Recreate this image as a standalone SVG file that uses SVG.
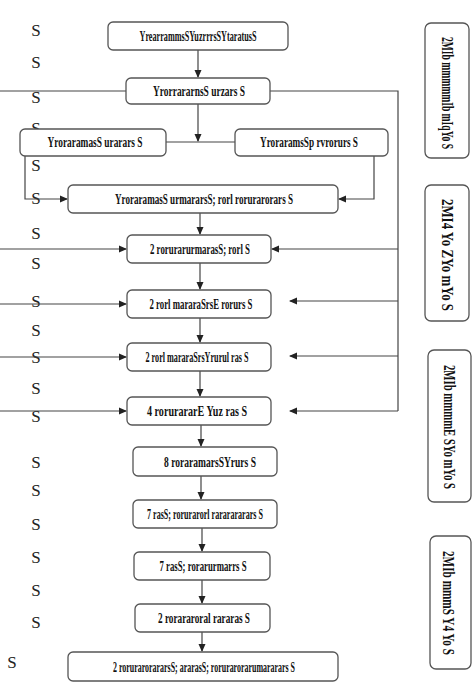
<svg xmlns="http://www.w3.org/2000/svg" width="474" height="684" viewBox="0 0 474 684">
<style>
.b{fill:#fff;stroke:#555;stroke-width:1.3}
.t{font-family:"Liberation Serif",serif;font-size:15px;font-weight:bold;fill:#111;text-anchor:middle}
.r{font-family:"Liberation Serif",serif;font-size:16px;font-weight:bold;fill:#111;text-anchor:middle}
.s{font-family:"Liberation Serif",serif;font-size:17px;fill:#222;text-anchor:middle}
.c{fill:none;stroke:#444;stroke-width:1.2}
</style>
<defs>
<marker id="a" markerWidth="8" markerHeight="8" refX="7" refY="4" orient="auto" markerUnits="userSpaceOnUse">
<path d="M0,0.5 L8,4 L0,7.5 Z" fill="#222"/>
</marker>
</defs>
<g id="side-labels">
<text class="s" x="36" y="36">S</text>
<text class="s" x="36" y="68">S</text>
<text class="s" x="36" y="103">S</text>
<text class="s" x="36" y="134">S</text>
<text class="s" x="36" y="171">S</text>
<text class="s" x="36" y="204">S</text>
<text class="s" x="36" y="239">S</text>
<text class="s" x="36" y="269">S</text>
<text class="s" x="36" y="307">S</text>
<text class="s" x="36" y="336">S</text>
<text class="s" x="36" y="363">S</text>
<text class="s" x="36" y="394">S</text>
<text class="s" x="36" y="422">S</text>
<text class="s" x="36" y="468">S</text>
<text class="s" x="36" y="496">S</text>
<text class="s" x="36" y="530">S</text>
<text class="s" x="36" y="563">S</text>
<text class="s" x="36" y="596">S</text>
<text class="s" x="36" y="628">S</text>
<text class="s" x="12" y="668">S</text>
</g>
<g id="connectors">
<path class="c" d="M198,50 V77" marker-end="url(#a)"/>
<path class="c" d="M0,91 H126"/>
<path class="c" d="M270,91 H398 V411"/>
<path class="c" d="M198,104 V141" marker-end="url(#a)"/>
<path class="c" d="M166,142 H235"/>
<path class="c" d="M25,156 V199 H67" marker-end="url(#a)"/>
<path class="c" d="M374,156 V199 H339" marker-end="url(#a)"/>
<path class="c" d="M200,213 V234" marker-end="url(#a)"/>
<path class="c" d="M0,249 H126" marker-end="url(#a)"/>
<path class="c" d="M398,249 H272" marker-end="url(#a)"/>
<path class="c" d="M200,263 V289" marker-end="url(#a)"/>
<path class="c" d="M0,304 H126" marker-end="url(#a)"/>
<path class="c" d="M398,301 H290" marker-end="url(#a)"/>
<path class="c" d="M200,318 V342" marker-end="url(#a)"/>
<path class="c" d="M0,357 H126" marker-end="url(#a)"/>
<path class="c" d="M398,356 H290" marker-end="url(#a)"/>
<path class="c" d="M200,371 V396" marker-end="url(#a)"/>
<path class="c" d="M0,411 H126" marker-end="url(#a)"/>
<path class="c" d="M398,411 H290" marker-end="url(#a)"/>
<path class="c" d="M201,425 V446" marker-end="url(#a)"/>
<path class="c" d="M201,476 V499" marker-end="url(#a)"/>
<path class="c" d="M202,528 V551" marker-end="url(#a)"/>
<path class="c" d="M202,580 V603" marker-end="url(#a)"/>
<path class="c" d="M202,632 V651" marker-end="url(#a)"/>
</g>
<g id="n1"><rect class="b" x="108" y="22" width="180" height="28" rx="5"/><text class="t" x="198" y="41" textLength="117" lengthAdjust="spacingAndGlyphs">YrearrammsSYuzrrrsSYtaratusS</text></g>
<g id="n2"><rect class="b" x="126" y="78" width="144" height="26" rx="5"/><text class="t" x="199" y="96" textLength="92" lengthAdjust="spacingAndGlyphs">YrorrararnsS urzars S</text></g>
<g id="n3"><rect class="b" x="20" y="129" width="146" height="27" rx="5"/><text class="t" x="95" y="147" textLength="95" lengthAdjust="spacingAndGlyphs">YroraramasS urarars S</text></g>
<g id="n4"><rect class="b" x="235" y="129" width="153" height="27" rx="5"/><text class="t" x="309" y="147" textLength="98" lengthAdjust="spacingAndGlyphs">YroraramsSp rvrorurs S</text></g>
<g id="n5"><rect class="b" x="68" y="185" width="270" height="28" rx="5"/><text class="t" x="204" y="204" textLength="178" lengthAdjust="spacingAndGlyphs">YroraramasS urmararsS; rorl rorurarorars S</text></g>
<g id="n6"><rect class="b" x="127" y="235" width="144" height="28" rx="5"/><text class="t" x="200" y="254" textLength="100" lengthAdjust="spacingAndGlyphs">2 rorurarurmarasS; rorl S</text></g>
<g id="n7"><rect class="b" x="127" y="290" width="144" height="28" rx="5"/><text class="t" x="201" y="309" textLength="103" lengthAdjust="spacingAndGlyphs">2 rorl mararaSrsE rorurs S</text></g>
<g id="n8"><rect class="b" x="127" y="343" width="144" height="28" rx="5"/><text class="t" x="197" y="362" textLength="103" lengthAdjust="spacingAndGlyphs">2 rorl mararaSrsYrurul ras S</text></g>
<g id="n9"><rect class="b" x="127" y="397" width="144" height="28" rx="5"/><text class="t" x="197" y="416" textLength="100" lengthAdjust="spacingAndGlyphs">4 rorurararE Yuz ras S</text></g>
<g id="n10"><rect class="b" x="133" y="447" width="144" height="29" rx="5"/><text class="t" x="210" y="467" textLength="92" lengthAdjust="spacingAndGlyphs">8 roraramarsSYrurs S</text></g>
<g id="n11"><rect class="b" x="133" y="500" width="144" height="28" rx="5"/><text class="t" x="205" y="519" textLength="116" lengthAdjust="spacingAndGlyphs">7 rasS; rorurarorl rararararars S</text></g>
<g id="n12"><rect class="b" x="134" y="552" width="136" height="28" rx="5"/><text class="t" x="203" y="571" textLength="87" lengthAdjust="spacingAndGlyphs">7 rasS; rorarurmarrs S</text></g>
<g id="n13"><rect class="b" x="135" y="604" width="135" height="28" rx="5"/><text class="t" x="204" y="623" textLength="92" lengthAdjust="spacingAndGlyphs">2 rorararoral rararas S</text></g>
<g id="n14"><rect class="b" x="68" y="652" width="270" height="29" rx="5"/><text class="t" x="204" y="672" textLength="182" lengthAdjust="spacingAndGlyphs">2 rorurarorararsS; ararasS; rorurarorarumararars S</text></g>
<g id="side1"><rect class="b" x="425" y="23" width="44" height="135" rx="6"/><text class="r" transform="translate(442,93) rotate(90)" textLength="112" lengthAdjust="spacingAndGlyphs">2MIb mmmmmIb mIqYo S</text></g>
<g id="side2"><rect class="b" x="425" y="185" width="44" height="136" rx="6"/><text class="r" transform="translate(442,255) rotate(90)" textLength="112" lengthAdjust="spacingAndGlyphs">2MI4 Yo ZYo mYo S</text></g>
<g id="side3"><rect class="b" x="428" y="350" width="43" height="152" rx="6"/><text class="r" transform="translate(444,427) rotate(90)" textLength="124" lengthAdjust="spacingAndGlyphs">2MIb mmmmE SYo mYo S</text></g>
<g id="side4"><rect class="b" x="430" y="536" width="41" height="133" rx="6"/><text class="r" transform="translate(443,603) rotate(90)" textLength="104" lengthAdjust="spacingAndGlyphs">2MIb mmmS Y4 Yo S</text></g>
</svg>
